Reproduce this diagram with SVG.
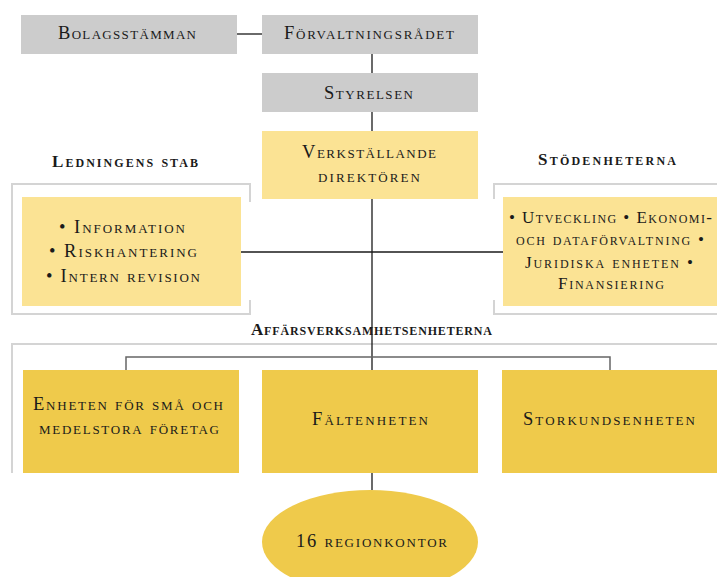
<svg xmlns="http://www.w3.org/2000/svg" width="717" height="577" viewBox="0 0 717 577">
<style>
text{font-family:"Liberation Serif","DejaVu Serif",serif;font-variant:small-caps;fill:#1a1a1a;text-anchor:middle;font-size:18.5px}
.h{font-weight:bold;font-size:17px}
.s{font-size:17px}
.grey{fill:#cccccc}
.pale{fill:#fbe394}
.dark{fill:#efca4b}
.frame{fill:none;stroke:#d4d4d4;stroke-width:2}
.ln{fill:none;stroke:#1a1a1a;stroke-width:1.3}
.br{fill:none;stroke:#666;stroke-width:1.5}
</style>
<rect width="717" height="577" fill="#ffffff"/>
<g id="frames">
<path class="frame" d="M250,202 V184 H12 V314 H250 V300"/>
<path class="frame" d="M494,199 V184 H718 M494,300 V314 H718"/>
<path class="frame" d="M718,344 H12 V473"/>
</g>
<g id="connectors">
<line class="ln" x1="237" y1="34" x2="262" y2="34"/>
<line class="ln" x1="372" y1="54" x2="372" y2="73"/>
<line class="ln" x1="372" y1="112" x2="372" y2="131"/>
<line class="ln" x1="372" y1="199" x2="372" y2="370"/>
<line class="ln" x1="241" y1="252" x2="503" y2="252"/>
<path class="br" d="M126,370 V357 H610 V370"/>
<line class="ln" x1="372" y1="473" x2="372" y2="490"/>
</g>
<g id="bolagsstamman"><rect class="grey" x="21" y="15" width="216" height="39"/><text x="127" y="39" textLength="138" lengthAdjust="spacing">Bolagsstämman</text></g>
<g id="forvaltningsradet"><rect class="grey" x="262" y="15" width="216" height="39"/><text x="369" y="39" textLength="170" lengthAdjust="spacing">Förvaltningsrådet</text></g>
<g id="styrelsen"><rect class="grey" x="262" y="73" width="216" height="39"/><text x="368.5" y="99" textLength="89" lengthAdjust="spacing">Styrelsen</text></g>
<g id="vd"><rect class="pale" x="262" y="131" width="216" height="68"/><text x="369" y="158" textLength="134" lengthAdjust="spacing">Verkställande</text><text x="369" y="182" textLength="102" lengthAdjust="spacing">direktören</text></g>
<text class="h" x="125" y="167" textLength="146" lengthAdjust="spacing">Ledningens stab</text>
<g id="ledningens-stab"><rect class="pale" x="22" y="197" width="219" height="109"/>
<text x="122" y="233" textLength="126" lengthAdjust="spacing">• Information</text><text x="123" y="257" textLength="148" lengthAdjust="spacing">• Riskhantering</text><text x="123" y="282" textLength="154" lengthAdjust="spacing">• Intern revision</text></g>
<text class="h" x="607" y="165" textLength="138" lengthAdjust="spacing">Stödenheterna</text>
<g id="stodenheterna"><rect class="pale" x="503" y="197" width="214" height="109"/>
<text class="s" x="610.5" y="223" textLength="203" lengthAdjust="spacing">• Utveckling • Ekonomi-</text><text class="s" x="610" y="245" textLength="188" lengthAdjust="spacing">och dataförvaltning •</text><text class="s" x="609" y="268" textLength="168" lengthAdjust="spacing">Juridiska enheten •</text><text class="s" x="611" y="289" textLength="106" lengthAdjust="spacing">Finansiering</text></g>
<text class="h" x="371.5" y="335" textLength="241" lengthAdjust="spacing">Affärsverksamhetsenheterna</text>
<g id="sma-medelstora"><rect class="dark" x="23" y="370" width="216" height="103"/><text x="128" y="410" textLength="190" lengthAdjust="spacing">Enheten för små och</text><text x="129" y="434" textLength="180" lengthAdjust="spacing">medelstora företag</text></g>
<g id="faltenheten"><rect class="dark" x="262" y="370" width="216" height="103"/><text x="370" y="425" textLength="116" lengthAdjust="spacing">Fältenheten</text></g>
<g id="storkundsenheten"><rect class="dark" x="502" y="370" width="215" height="103"/><text x="609" y="425" textLength="172" lengthAdjust="spacing">Storkundsenheten</text></g>
<g id="regionkontor"><ellipse class="dark" cx="370" cy="542" rx="108" ry="52"/><text x="371.5" y="547" textLength="151" lengthAdjust="spacing">16 regionkontor</text></g>
</svg>
